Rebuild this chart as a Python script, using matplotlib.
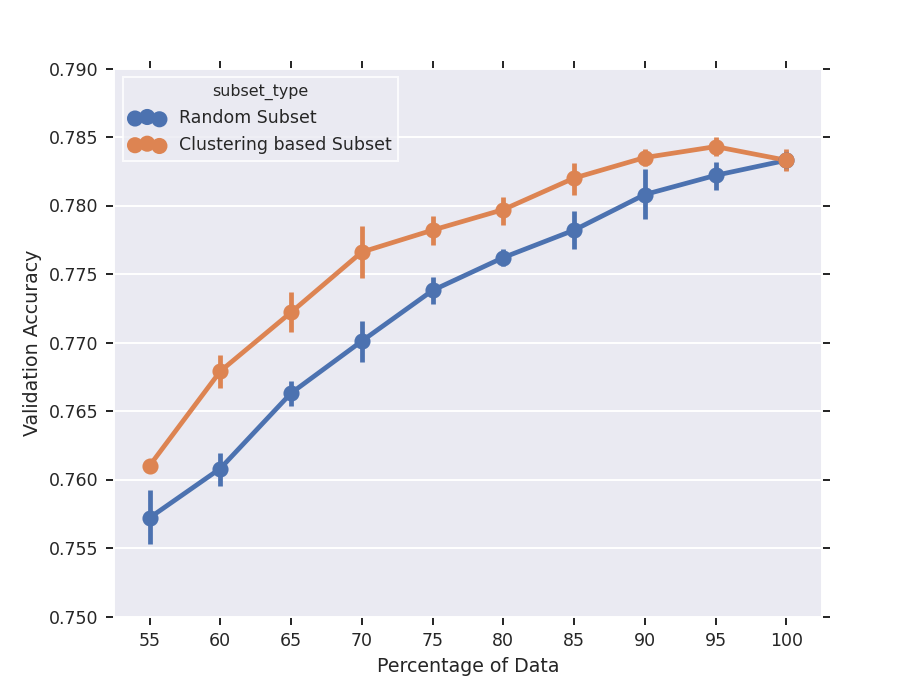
import numpy as np
import matplotlib
matplotlib.use("Agg")
import matplotlib.pyplot as plt

# данные
pct = [55, 60, 65, 70, 75, 80, 85, 90, 95, 100]

random_mean = [0.7572, 0.7608, 0.7663, 0.7701, 0.7738, 0.7762, 0.7782, 0.7808, 0.7822, 0.7833]
random_lo = [0.7553, 0.7595, 0.7654, 0.7686, 0.7728, 0.7756, 0.7768, 0.7790, 0.7811, 0.7826]
random_hi = [0.7592, 0.7619, 0.7672, 0.7716, 0.7748, 0.7768, 0.7796, 0.7827, 0.7832, 0.7840]

cluster_mean = [0.7610, 0.7679, 0.7722, 0.7766, 0.7782, 0.7797, 0.7820, 0.7835, 0.7843, 0.7833]
cluster_lo = [0.7605, 0.7667, 0.7708, 0.7747, 0.7771, 0.7786, 0.7808, 0.7829, 0.7836, 0.7825]
cluster_hi = [0.7614, 0.7691, 0.7737, 0.7785, 0.7792, 0.7806, 0.7831, 0.7841, 0.7850, 0.7841]

series = [
    ("Random Subset", random_mean, random_lo, random_hi, "#4C72B0"),
    ("Clustering based Subset", cluster_mean, cluster_lo, cluster_hi, "#DD8452"),
]

plt.rcParams["font.family"] = ["DejaVu Sans"]
plt.rcParams["text.color"] = "#262626"

fig = plt.figure(figsize=(913 / 114, 685 / 114), dpi=114)
ax = fig.add_axes([0.125, 0.1, 0.775, 0.8])
ax.set_facecolor("#EAEAF2")
for s in ax.spines.values():
    s.set_color("white")
    s.set_linewidth(1.25)

x = np.arange(len(pct))
lw = 3.0
for name, m, lo, hi, c in series:
    ax.vlines(x, lo, hi, color=c, lw=lw, zorder=3)
    ax.plot(x, m, color=c, lw=lw, zorder=3)
    ax.scatter(x, m, s=62, color=c, edgecolor=c, linewidth=2.3, zorder=4, label=name)

ax.set_xlim(-0.5, len(pct) - 0.5)
ax.set_ylim(0.750, 0.790)
ax.set_xticks(x)
ax.set_xticklabels([str(p) for p in pct])
ax.set_yticks(np.arange(0.750, 0.7901, 0.005))
ax.set_yticklabels([f"{v:.3f}" for v in np.arange(0.750, 0.7901, 0.005)])
ax.grid(axis="y", color="white", lw=1.25)
ax.grid(axis="x", visible=False)
ax.set_axisbelow(True)
ax.tick_params(direction="out", length=5, width=1.25, color="#262626",
               labelcolor="#262626", labelsize=11, top=True, right=True, pad=5)

ax.set_xlabel("Percentage of Data", fontsize=12, color="#262626")
ax.set_ylabel("Validation Accuracy", fontsize=12, color="#262626")

leg = ax.legend(title="subset_type", loc="upper left", scatterpoints=3,
                fontsize=11, title_fontsize=10, frameon=True, fancybox=False,
                borderaxespad=0.5)
leg.get_frame().set_facecolor("#EAEAF2")
leg.get_frame().set_edgecolor("white")
leg.get_frame().set_linewidth(1.25)

fig.savefig("out.png", dpi=114)
